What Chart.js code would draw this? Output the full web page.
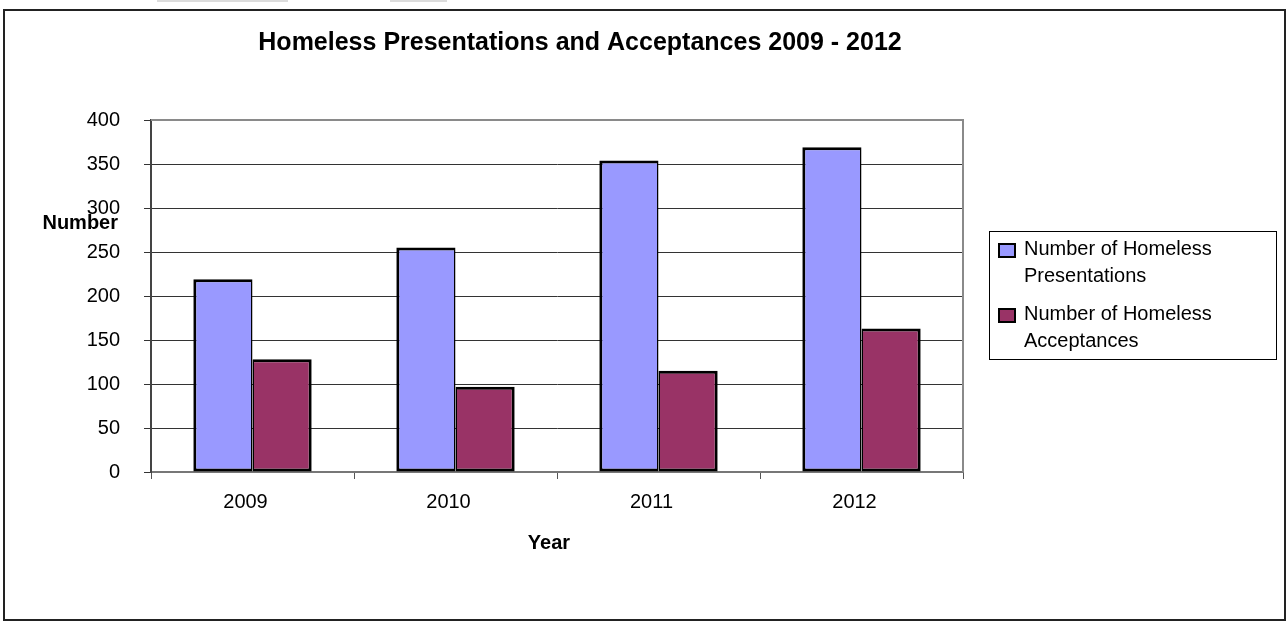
<!DOCTYPE html>
<html>
<head>
<meta charset="utf-8">
<script src="https://cdn.jsdelivr.net/npm/chart.js@4.4.1/dist/chart.umd.min.js"></script>
<style>
html,body{margin:0;padding:0;background:#fff;}
#wrap{position:relative;width:1286px;height:622px;}
</style>
</head>
<body>
<div id="wrap"><canvas id="c" width="1286" height="622"></canvas></div>
<script>
const chartTitle = 'Homeless Presentations and Acceptances 2009 - 2012';
const xAxisTitle = 'Year';
const yAxisTitle = 'Number';
const years = ['2009', '2010', '2011', '2012'];
const seriesNames = ['Number of Homeless Presentations', 'Number of Homeless Acceptances'];
const presentations = [219, 255, 354, 369];
const acceptances = [128, 97, 115, 163];
const yTicks = [0, 50, 100, 150, 200, 250, 300, 350, 400];

const FONT = "'Liberation Sans', Arial, sans-serif";
Chart.defaults.font.family = FONT;
Chart.defaults.color = '#000';

function wrapText(ctx, text, maxW) {
  const words = text.split(' ');
  const lines = [];
  let cur = '';
  for (const w of words) {
    const t = cur ? cur + ' ' + w : w;
    if (ctx.measureText(t).width > maxW && cur) { lines.push(cur); cur = w; }
    else cur = t;
  }
  if (cur) lines.push(cur);
  return lines;
}

const decor = {
  id: 'decor',
  afterDraw(chart) {
    const ctx = chart.ctx;
    const a = chart.chartArea;
    ctx.save();
    ctx.fillStyle = '#dcdcdc';
    ctx.fillRect(157, 0, 131, 2);
    ctx.fillRect(390, 0, 57, 2);
    ctx.strokeStyle = '#222';
    ctx.lineWidth = 2;
    ctx.strokeRect(4, 10, 1281, 610);
    ctx.strokeStyle = '#8a8a8a';
    ctx.lineWidth = 2;
    ctx.beginPath();
    ctx.moveTo(a.left, a.top);
    ctx.lineTo(a.right, a.top);
    ctx.lineTo(a.right, a.bottom);
    ctx.stroke();
    ctx.fillStyle = '#000';
    ctx.textBaseline = 'middle';
    ctx.textAlign = 'center';
    ctx.font = "bold 25px " + FONT;
    ctx.fillText(chartTitle, 580, 43);
    ctx.font = "bold 20px " + FONT;
    ctx.fillText(xAxisTitle, 549, 543);
    ctx.textAlign = 'right';
    ctx.fillText(yAxisTitle, 118, 223);
    const lx = 989, ly = 231, lw = 287, lh = 128;
    ctx.strokeStyle = '#000';
    ctx.lineWidth = 1;
    ctx.strokeRect(lx + 0.5, ly + 0.5, lw, lh);
    ctx.font = "20px " + FONT;
    ctx.textAlign = 'left';
    let y = 249;
    chart.data.datasets.forEach((ds) => {
      const lines = wrapText(ctx, ds.label, 240);
      ctx.fillStyle = ds.backgroundColor;
      ctx.fillRect(999, y - 5, 16, 13);
      ctx.strokeStyle = '#000';
      ctx.lineWidth = 2;
      ctx.strokeRect(999, y - 5, 16, 13);
      ctx.fillStyle = '#000';
      lines.forEach((ln, j) => ctx.fillText(ln, 1024, y + j * 27));
      y += lines.length * 27 + 11;
    });
    ctx.restore();
  }
};

new Chart(document.getElementById('c'), {
  type: 'bar',
  data: {
    labels: years,
    datasets: [
      { label: seriesNames[0], data: presentations, backgroundColor: '#9999ff', borderColor: '#000',
        borderWidth: { top: 3, left: 3, bottom: 3, right: 1.5 }, borderSkipped: false },
      { label: seriesNames[1], data: acceptances, backgroundColor: '#993366', borderColor: '#000',
        borderWidth: { top: 3, left: 1.5, bottom: 3, right: 3 }, borderSkipped: false }
    ]
  },
  options: {
    responsive: false,
    animation: false,
    layout: { padding: { left: 0, right: 323, top: 120, bottom: 110 } },
    plugins: { legend: { display: false }, title: { display: false }, tooltip: { enabled: false } },
    datasets: { bar: { categoryPercentage: 0.583, barPercentage: 1.0 } },
    scales: {
      x: {
        afterFit(s) { s.height = 40; },
        grid: { offset: true, drawOnChartArea: false, tickLength: 7, color: '#555', lineWidth: 1 },
        border: { color: '#777', width: 2 },
        ticks: { font: { size: 20 }, padding: 11, labelOffset: -7, color: '#000' }
      },
      y: {
        min: 0, max: 400,
        afterFit(s) { s.width = 151; },
        afterBuildTicks(s) { s.ticks = yTicks.map(v => ({ value: v })); },
        grid: { color: '#333', lineWidth: 1, tickLength: 7 },
        border: { color: '#444', width: 2 },
        ticks: { font: { size: 20 }, padding: 24, color: '#000' }
      }
    }
  },
  plugins: [decor]
});
</script>
</body>
</html>
